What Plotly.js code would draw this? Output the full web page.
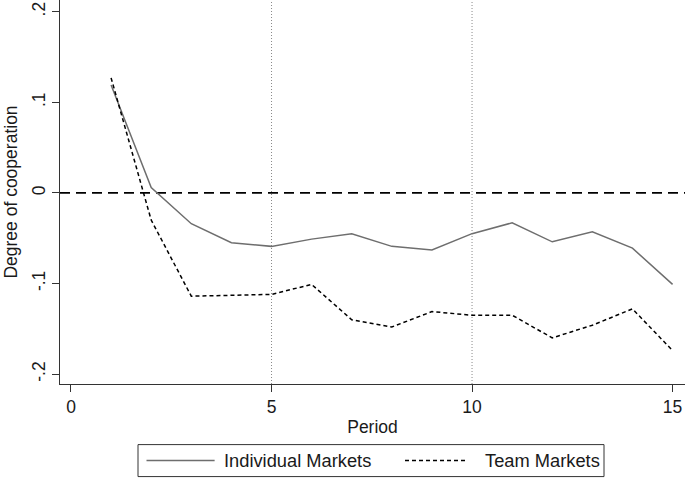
<!DOCTYPE html>
<html>
<head>
<meta charset="utf-8">
<script src="https://cdn.plot.ly/plotly-3.0.1.min.js"></script>
<style>html,body{margin:0;padding:0;background:#fff;}#chart{width:685px;height:478px;}</style>
</head>
<body>
<div id="chart"></div>
<script>
var periods = [1,2,3,4,5,6,7,8,9,10,11,12,13,14,15];
var individualMarkets = [0.119,0.006,-0.034,-0.055,-0.059,-0.051,-0.045,-0.059,-0.063,-0.045,-0.033,-0.054,-0.043,-0.061,-0.101];
var teamMarkets = [0.127,-0.030,-0.114,-0.113,-0.112,-0.101,-0.140,-0.148,-0.131,-0.135,-0.135,-0.160,-0.146,-0.128,-0.174];
var seriesNames = ["Individual Markets","Team Markets"];
var xTickVals = [0,5,10,15];
var xTickText = ["0","5","10","15"];
var yTickVals = [-0.2,-0.1,0,0.1,0.2];
var yTickText = ["-.2","-.1","0",".1",".2"];
var refYLines = [0];
var refXLines = [5,10];

var FONT = "Liberation Sans, Arial, Helvetica, sans-serif";
var TXT = "#1a1a1a";
var grayCol = "#6e6e6e";

var traces = [
  {x: periods, y: individualMarkets, name: seriesNames[0], mode: "lines", type: "scatter",
   line: {color: grayCol, width: 1.5}, showlegend: false},
  {x: periods, y: teamMarkets, name: seriesNames[1], mode: "lines", type: "scatter",
   line: {color: "#000", width: 1.5, dash: "4px,3px"}, showlegend: false}
];

var shapes = [];
refXLines.forEach(function(v){
  shapes.push({type:"line", xref:"x", yref:"paper", x0:v, x1:v, y0:0, y1:1,
    line:{color:"#8a8a8a", width:1, dash:"1px,2px"}, layer:"below"});
});
refYLines.forEach(function(v){
  shapes.push({type:"line", xref:"paper", yref:"y", x0:0, x1:1, y0:v, y1:v,
    line:{color:"#000", width:1.6, dash:"10px,6px"}, layer:"below"});
});
// legend box (paper coords)
shapes.push({type:"rect", xref:"paper", yref:"paper", x0:0.1248, x1:0.8704, y0:-0.1578, y1:-0.2411,
  line:{color:"#333", width:1}, fillcolor:"rgba(0,0,0,0)"});
shapes.push({type:"line", xref:"paper", yref:"paper", x0:0.1384, x1:0.2474, y0:-0.1995, y1:-0.1995,
  line:{color:grayCol, width:1.5}});
shapes.push({type:"line", xref:"paper", yref:"paper", x0:0.552, x1:0.6512, y0:-0.1995, y1:-0.1995,
  line:{color:"#000", width:1.5, dash:"4px,3px"}});

var annotations = [
  {xref:"paper", yref:"paper", x:0.2592, y:-0.1995, xanchor:"left", yanchor:"middle", showarrow:false,
   text: seriesNames[0], font:{family:FONT, size:18.3, color:TXT}},
  {xref:"paper", yref:"paper", x:0.6768, y:-0.1995, xanchor:"left", yanchor:"middle", showarrow:false,
   text: seriesNames[1], font:{family:FONT, size:18.3, color:TXT}}
];

var layout = {
  width: 685, height: 478,
  margin: {l:60, r:0, t:0, b:94, pad:0},
  paper_bgcolor: "#fff", plot_bgcolor: "#fff",
  font: {family: FONT, size: 17.5, color: TXT},
  showlegend: false,
  xaxis: {
    range: [-0.274, 15.31], tickvals: xTickVals, ticktext: xTickText,
    showgrid: false, zeroline: false, showline: true, linecolor: "#333", linewidth: 1,
    ticks: "outside", ticklen: 7, tickcolor: "#333", tickwidth: 1,
    tickfont: {family: FONT, size: 17.5, color: TXT},
    title: {text: "Period", font: {family: FONT, size: 17.5, color: TXT}, standoff: 4},
    automargin: false
  },
  yaxis: {
    range: [-0.2109, 0.2129], tickvals: yTickVals, ticktext: yTickText,
    showgrid: false, zeroline: false, showline: true, linecolor: "#333", linewidth: 1,
    ticks: "outside", ticklen: 7, tickcolor: "#333", tickwidth: 1, tickangle: -90,
    tickfont: {family: FONT, size: 17.5, color: TXT},
    title: {text: "Degree of cooperation", font: {family: FONT, size: 17.5, color: TXT}, standoff: 6},
    automargin: false
  },
  shapes: shapes,
  annotations: annotations
};

Plotly.newPlot("chart", traces, layout, {staticPlot: true, displayModeBar: false});
</script>
</body>
</html>
